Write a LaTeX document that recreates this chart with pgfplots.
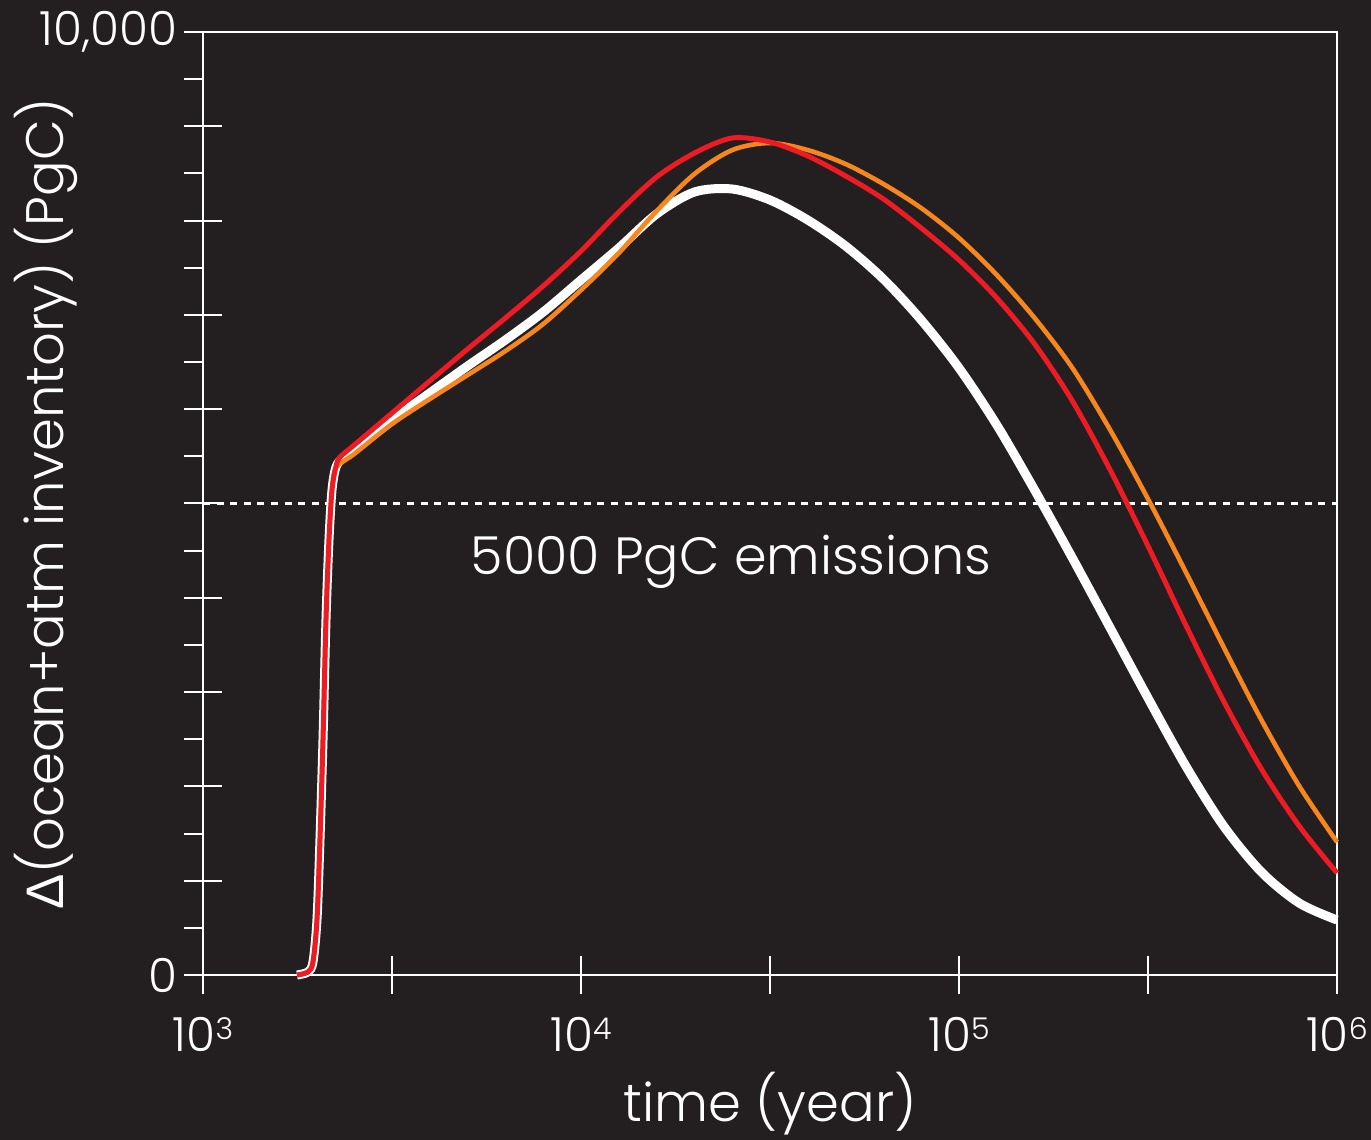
\documentclass[border=0pt]{standalone}
\usepackage{fontspec}
\setmainfont{Poppins}[UprightFont=* Light]
\newfontfamily\symfont{Liberation Sans}
\usepackage{pgfplots}
\usepackage{pgfplotstable}
\pgfplotsset{compat=1.18}
\usetikzlibrary{backgrounds}
\definecolor{bg}{HTML}{231F20}
\definecolor{cred}{HTML}{ED1C24}
\definecolor{corange}{HTML}{F7861E}
% red series
\pgfplotstableread{
t v
1773 0
1896 32
1954 138
2002 583
2039 1432
2077 2492
2115 3764
2154 4613
2194 5143
2249 5397
2304 5493
2512 5620
3162 5959
3981 6299
5012 6638
6310 6967
7943 7306
10000 7677
12589 8091
15849 8462
19953 8716
25119 8876
31623 8833
39811 8685
50119 8473
63096 8229
79433 7921
100000 7582
125893 7179
158489 6691
199526 6087
251189 5355
316228 4549
398107 3711
501187 2905
630957 2184
794328 1580
1000000 1082
}\redtab
% orange series
\pgfplotstableread{
t v
1773 0
1896 32
1954 138
2002 583
2039 1432
2077 2492
2115 3764
2154 4613
2194 5143
2249 5380
2512 5525
3162 5843
3981 6108
5012 6362
6310 6617
7943 6903
10000 7264
12589 7656
15849 8101
19953 8494
25119 8748
31623 8823
39811 8748
50119 8600
63096 8388
79433 8133
100000 7815
125893 7423
158489 6967
199526 6437
251189 5779
316228 5048
398107 4273
501187 3478
630957 2704
794328 2004
1000000 1410
}\orangetab
% white series
\pgfplotstableread{
t v
1773 0
1896 32
1954 138
2002 583
2039 1432
2077 2492
2115 3764
2154 4613
2194 5143
2249 5390
2346 5482
2512 5567
3162 5885
3981 6172
5012 6458
6310 6734
7943 7030
10000 7370
12589 7709
15849 8070
19953 8303
25119 8335
31623 8218
39811 8006
50119 7730
63096 7380
79433 6946
100000 6437
125893 5832
158489 5143
199526 4422
251189 3680
316228 2937
398107 2216
501187 1580
630957 1092
794328 763
1000000 583
}\whitetab
\begin{document}
\begin{tikzpicture}
\begin{axis}[
 name=ax, scale only axis, width=567pt, height=471.5pt,
 xmode=log, xmin=1000, xmax=1000000, ymin=0, ymax=10000,
 clip=false, scaled y ticks=false,
 axis line style={white, line width=1pt},
 tick style={white, line width=1pt},
 tick align=center, major tick length=19pt, minor tick length=9.5pt,
 minor y tick style={xshift=-4.75pt},
 xtick={1000,3162.2777,10000,31622.777,100000,316227.77,1000000},
 xticklabels={10\raisebox{5.8pt}{\fontsize{15}{15}\selectfont 3},,10\raisebox{5.8pt}{\fontsize{15}{15}\selectfont 4},,10\raisebox{5.8pt}{\fontsize{15}{15}\selectfont 5},,10\raisebox{5.8pt}{\fontsize{15}{15}\selectfont 6}},
 xminorticks=false,
 ytick={0,1000,...,10000},
 yticklabels={0,,,,,,,,,,{10,000}},
 minor y tick num=1,
 xtick pos=bottom, ytick pos=left,
 ticklabel style={white, font=\fontsize{23.5}{23.5}\selectfont},
 xticklabel style={yshift=-8pt},
 label style={white, font=\fontsize{26.4}{26.4}\selectfont},
 xlabel={time (year)},
 ylabel={{\symfont Δ}(ocean+atm inventory) (PgC)},
 xlabel style={at={(axis description cs:0.5,-0.1555)}, anchor=base},
 ylabel style={at={(axis description cs:-0.13845,0.5)}, anchor=center},
]
\addplot[white, line width=1.1pt, dash pattern=on 3.5pt off 3.3pt] coordinates {(1000,5000) (1000000,5000)};
\addplot[white, line width=4.5pt, smooth] table {\whitetab};
\addplot[corange, line width=2.3pt, smooth] table {\orangetab};
\addplot[cred, line width=2.5pt, smooth] table {\redtab};
\node[white, font=\fontsize{26.2}{26.2}\selectfont, anchor=base] at (axis cs:24940,4242) {5000 PgC emissions};
\end{axis}
\pgfresetboundingbox
\begin{scope}[on background layer]
\fill[bg] ([xshift=-101.5pt,yshift=-82.5pt]ax.south west) rectangle ([xshift=17pt,yshift=16pt]ax.north east);
\end{scope}
\end{tikzpicture}
\end{document}
